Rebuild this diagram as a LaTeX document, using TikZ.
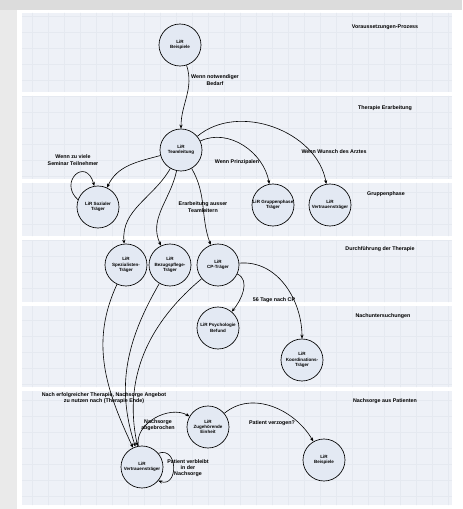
\documentclass[tikz,border=0pt]{standalone}
\usepackage{fontspec}
\setmainfont{Liberation Sans}
\usetikzlibrary{arrows.meta}
\definecolor{lanebg}{HTML}{EEF1F7}
\definecolor{lanegrid}{HTML}{E5E9F0}
\definecolor{lirfill}{HTML}{E3E9F3}
\definecolor{framegray}{HTML}{DCDCDC}

\begin{document}
\begin{tikzpicture}[x=0.75pt,y=0.75pt,
  every node/.style={font=\fontsize{4}{4.7}\selectfont\bfseries},
  lir/.style={circle,draw=black,line width=0.5pt,fill=lirfill,minimum size=31.5pt,inner sep=0pt,align=center,font=\fontsize{3.4}{4}\selectfont\bfseries},
  lbl/.style={align=center,inner sep=0.5pt},
  flow/.style={draw=black,line width=0.45pt,-{Stealth[length=3pt,width=2.4pt]}}]
\useasboundingbox (0,0) rectangle (462,-509);
\fill[white] (0,0) rectangle (462,-509);
\fill[framegray] (0,0) rectangle (462,-10);
\fill[framegray!60] (0,-10) rectangle (17,-509);
% lanes
\foreach \ya/\yb in {13/92,96/179,183/236,240/302,306/387,391/505}
  \fill[lanebg] (22,-\ya) rectangle (452,-\yb);
\begin{scope}
\clip (22,-13) rectangle (452,-92) (22,-96) rectangle (452,-179)
      (22,-183) rectangle (452,-236) (22,-240) rectangle (452,-302)
      (22,-306) rectangle (452,-387) (22,-391) rectangle (452,-505);
\draw[lanegrid,line width=0.3pt,step=16] (22,-509) grid (452,0);
\end{scope}
\node (laneA) at (385,-27) {Voraussetzungen-Prozess};
\node (laneB) at (385,-108) {Therapie Erarbeitung};
\node (laneC) at (386,-194) {Gruppenphase};
\node (laneD) at (380,-249) {Durchführung der Therapie};
\node (laneE) at (383,-316) {Nachuntersuchungen};
\node (laneF) at (385,-401) {Nachsorge aus Patienten};

% LiR nodes
\node[lir] (bspA) at (180,-45) {LiR\\Beispiele};
\node[lir] (team) at (181,-150) {LiR\\Teamleitung};
\node[lir] (sozTr) at (98,-207) {LiR Sozialer\\Träger};
\node[lir] (grpTr) at (273,-205) {LiR Gruppenphase\\Träger};
\node[lir] (vertrTr) at (330,-205) {LiR\\Vertrauensträger};
\node[lir] (spezTr) at (126,-265) {LiR\\Spezialisten-\\Träger};
\node[lir] (pflTr) at (170,-265) {LiR\\Bezugspflege-\\Träger};
\node[lir] (cpTr) at (218,-265) {LiR\\CP-Träger};
\node[lir] (psyBef) at (218,-328) {LiR Psychologie\\Befund};
\node[lir] (koordTr) at (302,-360) {LiR\\Koordinations-\\Träger};
\node[lir] (zustEh) at (208,-427) {LiR\\Zugehörende\\Einheit};
\node[lir] (vertrB) at (142,-467) {LiR\\Vertrauensträger};
\node[lir] (bspB) at (324,-460) {LiR\\Beispiele};

% connectors
\draw[flow] (bspA) to[out=-72,in=90] (team);
\node[lbl] (lBedarf) at (215,-80) {Wenn notwendiger\\Bedarf};
\draw[flow] (team) to[out=195,in=65] (sozTr);
\draw[flow] (sozTr.160) .. controls (58,-182) and (86,-156) .. (sozTr.100);
\node[lbl] (lSozial) at (73,-160) {Wenn zu viele\\Seminar Teilnehmer};
\draw[flow] (team) to[out=25,in=100] (grpTr);
\node[lbl] (lPrinz) at (237,-162) {Wenn Prinzipalen};
\draw[flow] (team) to[out=40,in=100] (vertrTr);
\node[lbl] (lWunsch) at (334,-152) {Wenn Wunsch des Arztes};
\draw[flow] (team) to[out=-120,in=95] (spezTr);
\draw[flow] (team) to[out=-102,in=115] (pflTr);
\draw[flow] (team) to[out=-60,in=110] (cpTr);
\node[lbl] (lAusser) at (203,-207) {Erarbeitung ausser\\Teamleitern};
\draw[flow] (cpTr) to[out=-25,in=50] (psyBef);
\draw[flow] (cpTr) to[out=5,in=90] (koordTr);
\node[lbl] (lTage) at (274,-300) {56 Tage nach CP};
\draw[flow] (spezTr) to[out=-115,in=115] (vertrB);
\draw[flow] (pflTr) to[out=-120,in=108] (vertrB);
\draw[flow] (cpTr) to[out=-140,in=102] (vertrB);
\node[lbl] (lNacher) at (104,-398) {Nach erfolgreicher Therapie, Nachsorge Angebot\\zu nutzen nach (Therapie Ende)};
\draw[flow] (vertrB) to[out=100,in=150] (zustEh);
\node[lbl] (lAbbr) at (158,-425) {Nachsorge\\abgebrochen};
\draw[flow] (zustEh) to[out=40,in=120] (bspB);
\node[lbl] (lVerz) at (272,-423) {Patient verzogen?};
\draw[flow] (vertrB.40) to[out=20,in=-20,looseness=2] (vertrB.-40);
\node[lbl] (lVerbl) at (188,-468) {Patient verbleibt\\in der\\Nachsorge};
\end{tikzpicture}
\end{document}
